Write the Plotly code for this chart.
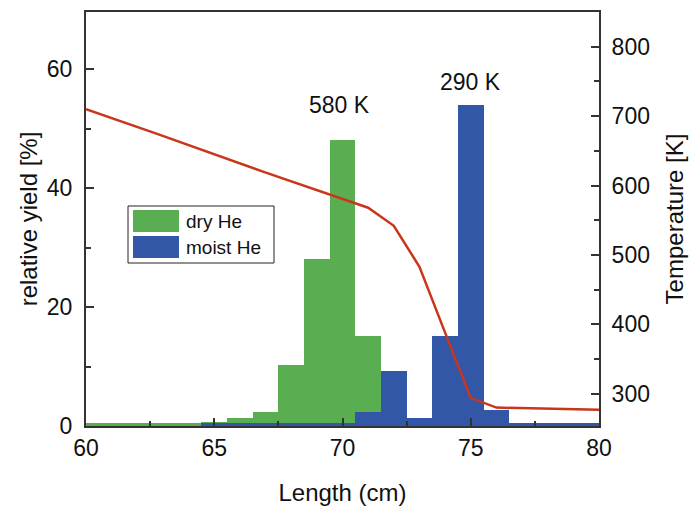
import plotly.graph_objects as go

# ---- data ----
bin_centers = [60, 61, 62, 63, 64, 65, 66, 67, 68, 69, 70, 71, 72, 73, 74, 75, 76, 77, 78, 79, 80]
dry_he =      [0.5, 0.5, 0.5, 0.5, 0.5, 0.7, 1.3, 2.3, 10.2, 28, 48, 15.2, 0, 0, 0, 0, 0, 0, 0, 0, 0]
moist_he =    [0, 0, 0, 0, 0, 0.5, 0.5, 0.5, 0.5, 0.5, 0.5, 2.3, 9.2, 1.3, 15.2, 54, 2.7, 0.5, 0.5, 0.5, 0.5]

temp_x = [60, 62.8, 66.9, 71, 72, 73, 74, 75, 76, 80]
temp_k = [710, 674, 620, 568, 542, 483, 388, 294, 280, 277]

labels = [("580 K", 69.9, 54.0), ("290 K", 75.0, 57.8)]
legend_names = ["dry He", "moist He"]

GREEN = "#58AE50"
BLUE = "#3157A6"
RED = "#C9361C"
AX = "#333333"
FONT = "Liberation Sans, Arial, sans-serif"

X_RANGE = [60, 80]
Y_RANGE = [0, 69.6]
T_RANGE = [253.5, 850]

fig = go.Figure()
fig.add_trace(go.Bar(x=bin_centers, y=dry_he, width=1, marker=dict(color=GREEN, line=dict(width=0)),
                     name=legend_names[0], showlegend=False))
fig.add_trace(go.Bar(x=bin_centers, y=moist_he, width=1, marker=dict(color=BLUE, line=dict(width=0)),
                     name=legend_names[1], showlegend=False))
fig.add_trace(go.Scatter(x=temp_x, y=temp_k, yaxis="y2", mode="lines",
                         line=dict(color=RED, width=2.5), showlegend=False))
# empty helper traces so the tick-only overlay axes get drawn
fig.add_trace(go.Scatter(x=[], y=[], xaxis="x2", yaxis="y", showlegend=False, hoverinfo="skip"))
fig.add_trace(go.Scatter(x=[], y=[], xaxis="x", yaxis="y3", showlegend=False, hoverinfo="skip"))
fig.add_trace(go.Scatter(x=[], y=[], xaxis="x", yaxis="y4", showlegend=False, hoverinfo="skip"))

for txt, x, y in labels:
    fig.add_annotation(x=x, y=y, text=txt, showarrow=False, font=dict(size=23, color="#111"),
                       xref="x", yref="y")

# plot-area geometry in figure pixels (page is offset ~8px by body margin)
PL, PR, PT, PB = 78, 591, 4, 418
W, H = 690, 498
def px(xp):
    return (xp - 8 - PL) / (PR - PL)
def py(yp):
    return 1 - (yp - 8 - PT) / (PB - PT)

# manual legend (big swatches like the reference)
fig.add_shape(type="rect", xref="paper", yref="paper", x0=px(128), x1=px(274), y0=py(263), y1=py(206),
              line=dict(color="#222", width=1), fillcolor="white", layer="above")
sw = [(210, 232, GREEN), (236, 258, BLUE)]
for (ya, yb, c), name in zip(sw, legend_names):
    fig.add_shape(type="rect", xref="paper", yref="paper",
                  x0=px(133), x1=px(179), y0=py(yb), y1=py(ya),
                  line=dict(width=0), fillcolor=c, layer="above")
    fig.add_annotation(xref="paper", yref="paper", x=px(184), y=py((ya + yb) / 2),
                       text=name, showarrow=False, xanchor="left", yanchor="middle",
                       font=dict(size=19, color="#111"))

lab_common = dict(showline=True, linecolor=AX, linewidth=2, ticks="", showgrid=False,
                  zeroline=False, automargin=False, tickfont=dict(size=23, color="#111"))
# overlay axes only carry the tick marks ("inside" renders outward for these helper axes)
tick_common = dict(showline=False, showgrid=False, zeroline=False, automargin=False,
                   showticklabels=False, ticks="inside", ticklen=8, tickwidth=1.5, tickcolor=AX)
minor_common = dict(ticks="inside", ticklen=5, tickcolor=AX, tickwidth=1.5)

fig.update_layout(
    width=W, height=H,
    margin=dict(l=PL, r=W - PR, t=PT, b=H - PB),
    paper_bgcolor="white", plot_bgcolor="white",
    barmode="overlay", bargap=0,
    font=dict(family=FONT, color="#111"),
    xaxis=dict(range=X_RANGE, dtick=5, mirror=True, ticklabelstandoff=0,
               title=dict(text="Length (cm)", font=dict(size=24), standoff=26), **lab_common),
    xaxis2=dict(range=X_RANGE, dtick=5, overlaying="x", anchor="y", side="bottom",
                minor=dict(dtick=2.5, **minor_common), **tick_common),
    yaxis=dict(range=Y_RANGE, dtick=20, ticklabelstandoff=7,
               title=dict(text="relative yield [%]", font=dict(size=24), standoff=2), **lab_common),
    yaxis2=dict(range=T_RANGE, dtick=100, tick0=300, overlaying="y", side="right", ticklabelstandoff=6,
                title=dict(text="Temperature [K]", font=dict(size=24), standoff=17), **lab_common),
    yaxis3=dict(range=Y_RANGE, dtick=20, overlaying="y", anchor="x", side="left",
                minor=dict(dtick=10, **minor_common), **tick_common),
    yaxis4=dict(range=T_RANGE, dtick=100, tick0=300, overlaying="y", anchor="x", side="right",
                minor=dict(dtick=50, **minor_common), **tick_common),
)

fig.write_html("out.html")
